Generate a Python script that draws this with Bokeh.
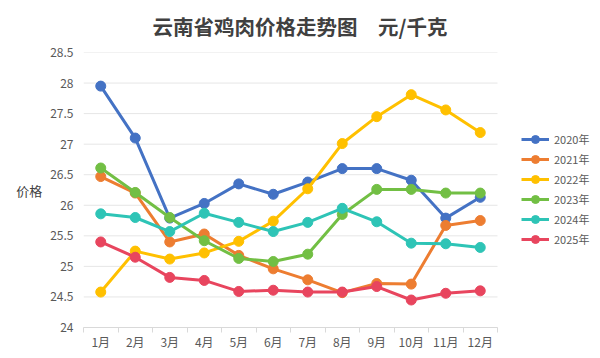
from bokeh.plotting import figure
from bokeh.models import FixedTicker, Legend, LegendItem, Range1d
from bokeh.embed import file_html
from bokeh.resources import INLINE

months = ["1月", "2月", "3月", "4月", "5月", "6月", "7月", "8月", "9月", "10月", "11月", "12月"]
series_names = ["2020年", "2021年", "2022年", "2023年", "2024年", "2025年"]
s2020 = [27.95, 27.10, 25.79, 26.03, 26.35, 26.18, 26.38, 26.60, 26.60, 26.41, 25.79, 26.13]
s2021 = [26.47, 26.20, 25.40, 25.53, 25.18, 24.96, 24.78, 24.57, 24.72, 24.71, 25.67, 25.75]
s2022 = [24.58, 25.25, 25.12, 25.22, 25.41, 25.74, 26.27, 27.01, 27.45, 27.81, 27.56, 27.19]
s2023 = [26.61, 26.21, 25.80, 25.42, 25.13, 25.08, 25.20, 25.85, 26.26, 26.26, 26.20, 26.20]
s2024 = [25.86, 25.80, 25.57, 25.87, 25.72, 25.57, 25.72, 25.95, 25.73, 25.38, 25.37, 25.31]
s2025 = [25.40, 25.15, 24.82, 24.77, 24.59, 24.61, 24.58, 24.58, 24.67, 24.45, 24.56, 24.60]
all_series = [s2020, s2021, s2022, s2023, s2024, s2025]
colors = ["#4472C4", "#ED7D31", "#FFC000", "#72BF44", "#2EC4B6", "#E8455E"]
y_ticks = [24, 24.5, 25, 25.5, 26, 26.5, 27, 27.5, 28, 28.5]
title_text = "云南省鸡肉价格走势图\u3000元/千克"

FONT = "Noto Sans CJK SC"
W, H = 592, 352
LEFT, TOP, BOTTOM_Y = 83, 51, 327
PLOT_W = 414           # width of the month area in px
n = len(months)
x = list(range(1, n + 1))
x_end = 0.5 + n * (W - LEFT) / PLOT_W   # extra room on the right for the legend

p = figure(width=W, height=H, output_backend="svg", toolbar_location=None,
           x_range=Range1d(0.5, x_end), y_range=Range1d(24, 28.5),
           min_border_left=LEFT, min_border_right=0, min_border_top=TOP,
           min_border_bottom=H - BOTTOM_Y, title=title_text)
p.outline_line_color = None
p.background_fill_color = "white"
p.border_fill_color = "white"

p.title.align = "left"
p.title.vertical_align = "top"
p.title.offset = 69
p.title.standoff = 20
p.title.text_font = FONT
p.title.text_font_size = "20.5px"
p.title.text_font_style = "bold"
p.title.text_color = "#404040"

# horizontal grid lines limited to the month area
p.segment(x0=[0.5] * len(y_ticks), x1=[n + 0.5] * len(y_ticks), y0=y_ticks, y1=y_ticks,
          line_color="#E6E6E6", line_width=1)

# x axis
p.xaxis.bounds = (0.5, n + 0.5)
p.xaxis.ticker = FixedTicker(ticks=x, minor_ticks=[i + 0.5 for i in range(0, n + 1)])
p.xaxis.major_label_overrides = {i + 1: m for i, m in enumerate(months)}
p.xaxis.major_tick_line_color = None
p.xaxis.major_tick_out = 0
p.xaxis.major_tick_in = 0
p.xaxis.minor_tick_line_color = "#D9D9D9"
p.xaxis.minor_tick_out = 5
p.xaxis.minor_tick_in = 0
p.xaxis.axis_line_color = "#D9D9D9"
p.xaxis.major_label_text_font = FONT
p.xaxis.major_label_text_font_size = "12px"
p.xaxis.major_label_text_color = "#595959"
p.xaxis.major_label_standoff = 0
p.xgrid.grid_line_color = None

# y axis
p.yaxis.ticker = FixedTicker(ticks=y_ticks)
p.yaxis.major_label_overrides = {t: (str(int(t)) if t == int(t) else str(t)) for t in y_ticks}
p.yaxis.axis_line_color = None
p.yaxis.major_tick_line_color = None
p.yaxis.major_tick_out = 0
p.yaxis.minor_tick_line_color = None
p.yaxis.major_label_text_font = FONT
p.yaxis.major_label_text_font_size = "12px"
p.yaxis.major_label_text_color = "#595959"
p.yaxis.major_label_standoff = 10
p.yaxis.axis_label = "价格"
p.yaxis.axis_label_orientation = "horizontal"
p.yaxis.axis_label_text_font = FONT
p.yaxis.axis_label_text_font_size = "13px"
p.yaxis.axis_label_text_font_style = "normal"
p.yaxis.axis_label_text_color = "#404040"
p.yaxis.axis_label_standoff = 5
p.ygrid.grid_line_color = None

items = []
for name, ys, c in zip(series_names, all_series, colors):
    l = p.line(x, ys, line_color=c, line_width=3)
    s = p.scatter(x, ys, size=10, fill_color=c, line_color=c)
    items.append(LegendItem(label=name, renderers=[l, s]))

legend = Legend(items=items, location=(438, 78), orientation="vertical",
                glyph_width=28, glyph_height=20, label_height=20, spacing=0,
                padding=0, margin=0, label_standoff=5,
                label_text_font=FONT, label_text_font_size="11px",
                label_text_color="#595959", border_line_color=None,
                background_fill_alpha=0)
p.add_layout(legend, "center")

open("out.html", "w").write(file_html(p, INLINE))
